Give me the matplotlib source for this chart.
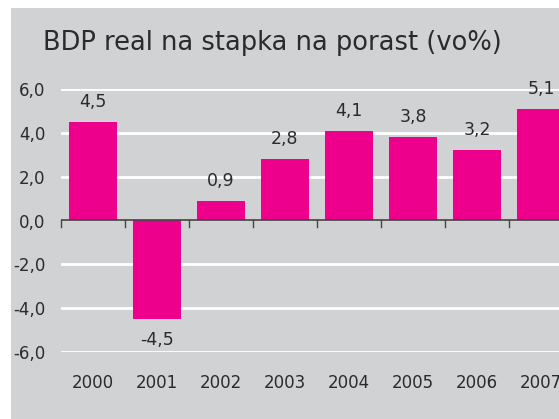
import matplotlib.pyplot as plt
from matplotlib.patches import Rectangle

years = ['2000', '2001', '2002', '2003', '2004', '2005', '2006', '2007']
growth = [4.5, -4.5, 0.9, 2.8, 4.1, 3.8, 3.2, 5.1]
yticks = [-6, -4, -2, 0, 2, 4, 6]

bg = '#d1d2d4'
pink = '#ec008c'
txt = '#2b2b2b'

fig = plt.figure(figsize=(5.59, 4.19), dpi=100)
fig.patches.append(Rectangle((11 / 559, 0), 1, 1 - 8 / 419, transform=fig.transFigure,
                             facecolor=bg, edgecolor='none', zorder=-10))

ax = fig.add_axes([61 / 559, 67 / 419, 512 / 559, 263 / 419])
ax.set_facecolor('none')
x = list(range(len(years)))
ax.set_xlim(-0.5, len(years) - 0.5)
ax.set_ylim(-6, 6)

for v in yticks:
    if v != 0:
        ax.axhline(v, color='white', lw=2, zorder=1)
ax.bar(x, growth, width=0.76, color=pink, zorder=2)
ax.axhline(0, color='#444444', lw=1.2, zorder=3)

for xi, v in zip(x, growth):
    off = 0.5 if v >= 0 else -0.55
    ax.text(xi, v + off, f'{v:.1f}'.replace('.', ','), ha='center',
            va='bottom' if v >= 0 else 'top', fontsize=12.5, color=txt, clip_on=False)

for xi, y in zip(x, years):
    ax.text(xi, -7.4, y, ha='center', va='center', fontsize=12, color=txt, clip_on=False)

# tick marks at category boundaries on the zero line
for b in range(len(years) + 1):
    ax.plot([b - 0.5, b - 0.5], [0, -0.3], color='#444444', lw=1, zorder=3, clip_on=False)

ax.set_xticks([])
ax.set_yticks(yticks)
ax.set_yticklabels([f'{v:.1f}'.replace('.', ',') for v in yticks], fontsize=12, color=txt)
ax.tick_params(axis='y', length=0, pad=11)
for s in ax.spines.values():
    s.set_visible(False)

fig.text(272 / 559, 1 - 43 / 419, 'BDP real na stapka na porast (vo%)', ha='center', va='center',
         fontsize=18.5, color=txt)

fig.savefig('out.png', dpi=100)
